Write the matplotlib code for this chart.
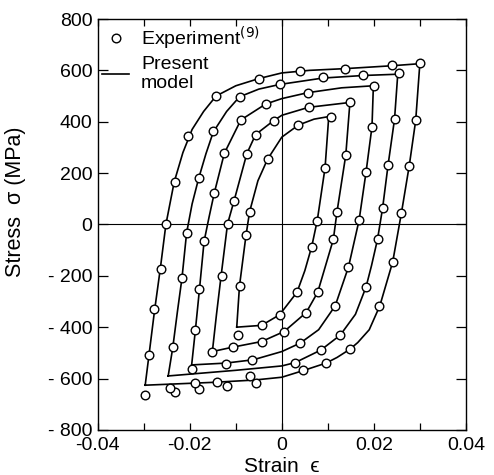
import matplotlib
matplotlib.use("Agg")
import matplotlib.pyplot as plt
from matplotlib.lines import Line2D

# ---------------- data ----------------
# Present model curves (closed hysteresis loops: upper branch then lower branch)
model1_strain = [-0.0098, -0.0092, -0.0078, -0.0070, -0.0052, -0.0031, 0.0000, 0.0036, 0.0070, 0.0102,
                 0.0094, 0.0077, 0.0065, 0.0050, 0.0033, -0.0005, -0.0044, -0.0098]
model1_stress = [-400, -239, -44, 50, 170, 254, 340, 387, 410, 420,
                 221, 15, -86, -180, -264, -352, -393, -400]

model2_strain = [-0.0151, -0.0142, -0.0132, -0.0118, -0.0104, -0.0076, -0.0057, -0.0018, 0.0000, 0.0058, 0.0148,
                 0.0139, 0.0120, 0.0112, 0.0078, 0.0053, 0.0005, -0.0044, -0.0107, -0.0151]
model2_stress = [-495, -350, -200, 2, 91, 276, 350, 404, 425, 456, 475,
                 270, 50, -58, -264, -343, -417, -456, -478, -495]

model3_strain = [-0.0196, -0.0188, -0.0179, -0.0169, -0.0158, -0.0147, -0.0125, -0.0089, -0.0035, 0.0000, 0.0056, 0.0130, 0.0199,
                 0.0196, 0.0183, 0.0168, 0.0145, 0.0116, 0.0080, 0.0040, 0.0000, -0.0062, -0.0122, -0.0196]
model3_stress = [-547, -413, -252, -66, 30, 121, 277, 407, 469, 490, 513, 532, 540,
                 381, 203, 17, -165, -317, -410, -462, -495, -527, -540, -547]

model4_strain = [-0.0247, -0.0237, -0.0227, -0.0217, -0.0207, -0.0195, -0.0181, -0.0165, -0.0149, -0.0120, -0.0092, -0.0050,
                 -0.0005, 0.0089, 0.0177, 0.0252,
                 0.0245, 0.0231, 0.0219, 0.0208, 0.0195, 0.0183, 0.0160, 0.0127, 0.0085, 0.0029, 0.0000, -0.0100, -0.0247]
model4_stress = [-590, -479, -340, -208, -33, 80, 178, 275, 360, 440, 497, 527,
                 545, 570, 580, 585,
                 410, 232, 63, -58, -160, -244, -350, -431, -489, -538, -551, -568, -590]

model5_strain = [-0.0297, -0.0289, -0.0277, -0.0264, -0.0252, -0.0234, -0.0215, -0.0195, -0.0170, -0.0143, -0.0100,
                 -0.0050, 0.0000, 0.0060, 0.0140, 0.0240, 0.0300,
                 0.0291, 0.0277, 0.0260, 0.0241, 0.0213, 0.0190, 0.0165, 0.0148, 0.0120, 0.0096, 0.0045, 0.0000,
                 -0.0060, -0.0150, -0.0297]
model5_stress = [-626, -512, -340, -170, 0, 165, 280, 370, 440, 500, 540,
                 568, 590, 600, 607, 618, 626,
                 405, 229, 45, -146, -317, -410, -460, -486, -518, -540, -570, -595,
                 -606, -615, -626]

# Experiment (9) points
exp1_strain = [-0.0095, -0.0092, -0.0078, -0.0070, -0.0031, 0.0036, 0.0106,
               0.0094, 0.0077, 0.0065, 0.0033, -0.0005, -0.0044]
exp1_stress = [-431, -239, -43, 50, 254, 387, 420,
               221, 15, -86, -264, -352, -393]

exp2_strain = [-0.0151, -0.0130, -0.0117, -0.0104, -0.0076, -0.0057, -0.0018, 0.0058, 0.0148,
               0.0139, 0.0120, 0.0112, 0.0078, 0.0053, 0.0005, -0.0044, -0.0107]
exp2_stress = [-496, -200, 2, 92, 276, 350, 404, 456, 475,
               270, 50, -58, -264, -343, -417, -456, -478]

exp3_strain = [-0.0195, -0.0188, -0.0179, -0.0169, -0.0147, -0.0125, -0.0089, -0.0035, 0.0056, 0.0201,
               0.0196, 0.0183, 0.0167, 0.0143, 0.0116, 0.0040, -0.0065, -0.0122]
exp3_stress = [-564, -413, -252, -66, 121, 277, 407, 469, 513, 540,
               381, 203, 17, -166, -317, -461, -528, -543]

exp4_strain = [-0.0237, -0.0217, -0.0207, -0.0181, -0.0149, -0.0092, -0.0005, 0.0089, 0.0177, 0.0255,
               0.0245, 0.0230, 0.0219, 0.0208, 0.0183, 0.0127, 0.0085, 0.0029]
exp4_stress = [-479, -208, -33, 179, 365, 497, 545, 575, 582, 588,
               410, 232, 63, -58, -244, -431, -489, -538]

exp5_strain = [-0.0297, -0.0289, -0.0278, -0.0263, -0.0252, -0.0233, -0.0204, -0.0143, -0.0050, 0.0040, 0.0137,
               0.0240, 0.0301, 0.0291, 0.0277, 0.0260, 0.0241, 0.0212, 0.0148, 0.0096, 0.0045,
               -0.0056, -0.0070, -0.0120, -0.0140, -0.0179, -0.0188, -0.0233, -0.0243]
exp5_stress = [-666, -509, -331, -173, 3, 167, 344, 502, 566, 598, 607,
               620, 627, 405, 229, 45, -146, -317, -486, -538, -567,
               -617, -591, -631, -612, -641, -618, -653, -637]

x_ticks = [-0.04, -0.03, -0.02, -0.01, 0.0, 0.01, 0.02, 0.03, 0.04]
x_tick_labels = ["-0.04", "", "-0.02", "", "0", "", "0.02", "", "0.04"]
y_ticks = [-800, -600, -400, -200, 0, 200, 400, 600, 800]
y_tick_labels = ["- 800", "- 600", "- 400", "- 200", "0", "200", "400", "600", "800"]

# ---------------- plotting ----------------
plt.rcParams["font.family"] = ["Liberation Sans", "DejaVu Sans"]
plt.rcParams["mathtext.fontset"] = "dejavusans"

fig = plt.figure(figsize=(4.94, 4.75), dpi=100)
ax = fig.add_axes([0.198, 0.095, 0.745, 0.865])

models = [(model1_strain, model1_stress), (model2_strain, model2_stress), (model3_strain, model3_stress),
          (model4_strain, model4_stress), (model5_strain, model5_stress)]
exps = [(exp1_strain, exp1_stress), (exp2_strain, exp2_stress), (exp3_strain, exp3_stress),
        (exp4_strain, exp4_stress), (exp5_strain, exp5_stress)]

for xs, ys in models:
    ax.plot(xs, ys, color="black", lw=1.2, zorder=2)
for xs, ys in exps:
    ax.plot(xs, ys, linestyle="none", marker="o", markersize=6.2, markerfacecolor="white",
            markeredgecolor="black", markeredgewidth=1.0, zorder=3)

ax.axhline(0, color="black", lw=0.8, zorder=1)
ax.axvline(0, color="black", lw=0.8, zorder=1)

ax.set_xlim(-0.04, 0.04)
ax.set_ylim(-800, 800)
ax.set_xticks(x_ticks, x_tick_labels)
ax.set_yticks(y_ticks, y_tick_labels)
ax.tick_params(axis="both", direction="in", top=True, right=True, labelsize=14, width=0.9, colors="black")
ax.tick_params(axis="x", length=5, pad=5)
ax.tick_params(axis="y", length=7, pad=4)
for s in ax.spines.values():
    s.set_linewidth(1.0)

ax.set_xlabel("Strain  ϵ", fontsize=15, labelpad=2)
ax.set_ylabel("Stress  σ (MPa)", fontsize=15.5)
ax.yaxis.set_label_coords(-0.195, 0.555)

handles = [Line2D([], [], linestyle="none", marker="o", markersize=6.2, markerfacecolor="white",
                  markeredgecolor="black", markeredgewidth=1.0),
           Line2D([], [], color="black", lw=1.2)]
leg = ax.legend(handles, ["Experiment$^{(9)}$", "Present\nmodel"], loc="upper left",
                bbox_to_anchor=(-0.02, 1.015), frameon=False, fontsize=14, handlelength=1.4,
                handletextpad=0.6, labelspacing=0.2, borderaxespad=0.2)

fig.savefig("out.png", dpi=100)
